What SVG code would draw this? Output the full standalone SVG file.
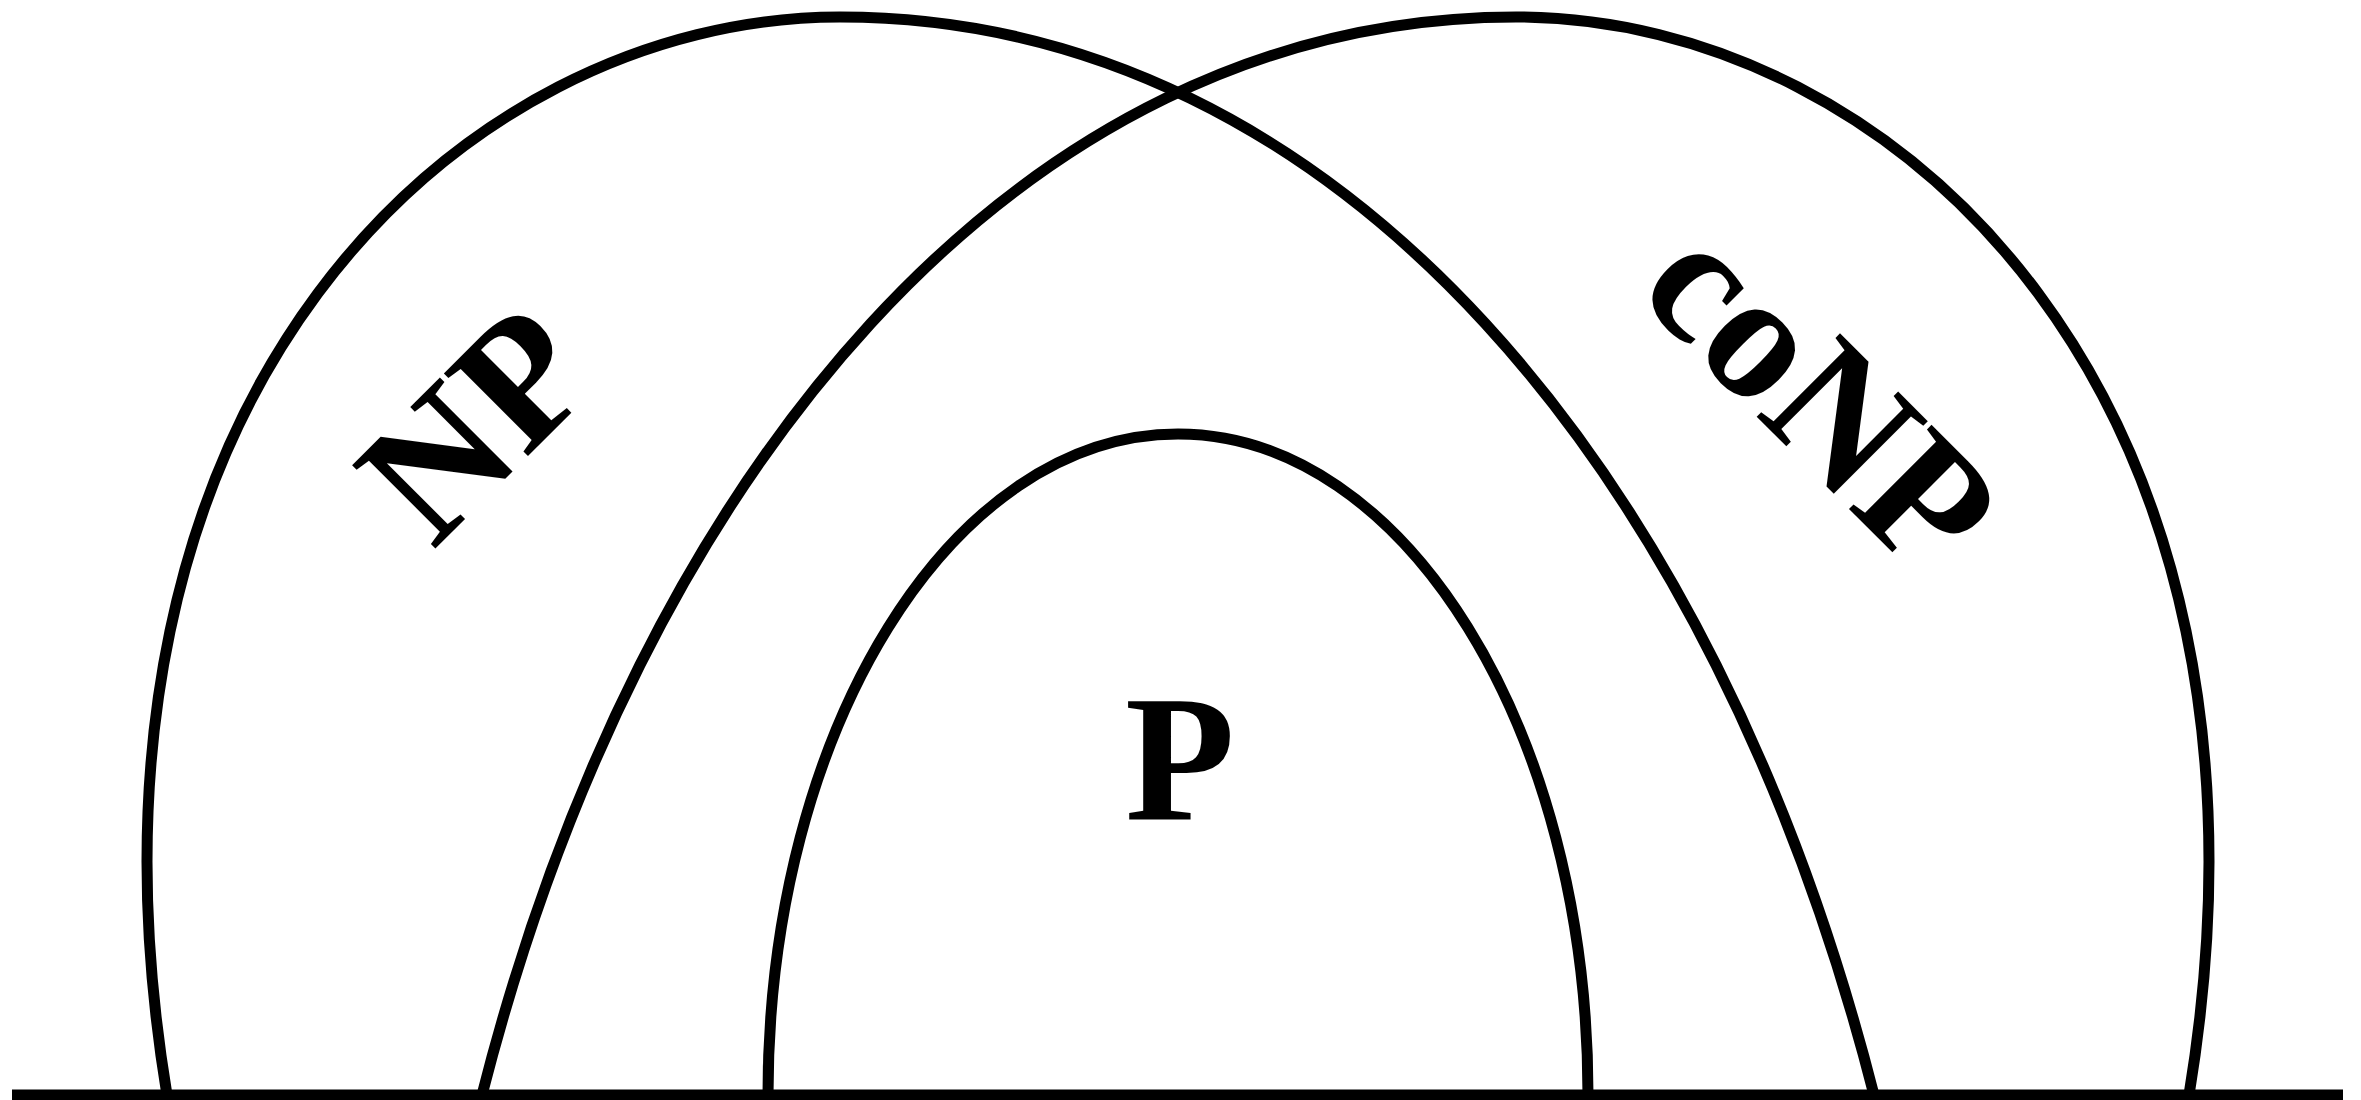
<svg xmlns="http://www.w3.org/2000/svg" width="2361" height="1100" viewBox="0 0 2361 1100">
<style>
.arc{fill:none;stroke:#000;stroke-width:11}
.lbl{font-family:"Liberation Serif","Times New Roman",serif;font-weight:bold;font-size:180px;fill:#000}
</style>
<rect width="2361" height="1100" fill="#fff"/>
<g id="connectors">
<line x1="12" y1="1095" x2="2343" y2="1095" class="arc"/>
</g>
<g id="np">
<path class="arc" d="M167,1095 C51.5,395 460,17 840,17 C1340,17 1716,475 1874,1095"/>
<text class="lbl" transform="translate(433,551) rotate(-45)">NP</text>
</g>
<g id="conp">
<path class="arc" d="M2189,1095 C2304.5,395 1896,17 1516,17 C1016,17 640,475 482,1095"/>
<text class="lbl" transform="translate(1634,294) rotate(45)">coNP</text>
</g>
<g id="p">
<path class="arc" d="M768,1095 C768,730 951.6,434 1178,434 C1404.4,434 1588,730 1588,1095"/>
<text class="lbl" x="1180" y="819" text-anchor="middle">P</text>
</g>
</svg>
